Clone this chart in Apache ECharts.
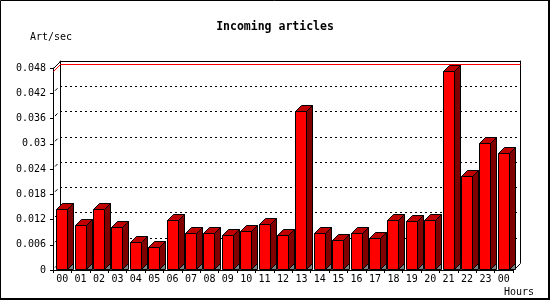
<!DOCTYPE html>
<html>
<head>
<meta charset="utf-8">
<script src="https://cdn.jsdelivr.net/npm/echarts@6/dist/echarts.min.js"></script>
<style>
html,body{margin:0;padding:0;background:#fff;}
#c{width:550px;height:300px;}
</style>
</head>
<body>
<div id="c"></div>
<script>
const hours = ['00','01','02','03','04','05','06','07','08','09','10','11','12','13','14','15','16','17','18','19','20','21','22','23','00'];
const articlesPerSec = [0.0143,0.0106,0.0143,0.0101,0.0066,0.0054,0.0117,0.0087,0.0087,0.0083,0.0092,0.0109,0.0083,0.0376,0.0087,0.0071,0.0087,0.0075,0.0118,0.0116,0.0118,0.0471,0.0223,0.0301,0.0277];
const yTicks = [0,0.006,0.012,0.018,0.024,0.03,0.036,0.042,0.048];
const titleText = 'Incoming articles';
const yUnit = 'Art/sec';
const xUnit = 'Hours';

const DEPTH = 7;      // wall depth in px
const BAR_D = 6;      // bar depth in px
const BAR_W = 11;
const FONT = 'DejaVu Sans Mono';
const maxVal = Math.max(...articlesPerSec);

const chart = echarts.init(document.getElementById('c'), null, {renderer:'canvas'});

function px(v){ return Math.floor(v) + 0.5; }

function renderBar(params, api){
  const i = api.value(0), v = api.value(1);
  const top = api.coord([i, v]);
  const base = api.coord([i, 0]);
  const x0 = px(top[0] - BAR_W/2);
  const x1 = x0 + BAR_W;
  const yt = px(top[1]);
  const yb = px(base[1]) - 1;
  const d = BAR_D;
  const stroke = {stroke:'#000', lineWidth:1};
  return {type:'group', children:[
    {type:'polygon', shape:{points:[[x1,yb],[x1+d,yb-d],[x1+d,yb]]}, style:{fill:'#808080', stroke:'#000', lineWidth:1}},
    {type:'polygon', shape:{points:[[x1,yb],[x1,yt],[x1+d,yt-d],[x1+d,yb-d]]}, style:Object.assign({fill:'#800000'}, stroke)},
    {type:'polygon', shape:{points:[[x0,yt],[x0+d,yt-d],[x1+d,yt-d],[x1,yt]]}, style:Object.assign({fill:'#c00000'}, stroke)},
    {type:'rect', shape:{x:x0, y:yt, width:BAR_W, height:yb-yt}, style:Object.assign({fill:'#ff0000'}, stroke)}
  ]};
}

function renderFrame(params, api){
  const cs = params.coordSys;
  const l = px(cs.x), t = px(cs.y), r = px(cs.x + cs.width), b = px(cs.y + cs.height);
  const st = {stroke:'#000', lineWidth:1, fill:null};
  return {type:'group', children:[
    {type:'polyline', shape:{points:[[l,t],[l+DEPTH,t-DEPTH]]}, style:st},
    {type:'polyline', shape:{points:[[r,b],[r+DEPTH,b-DEPTH]]}, style:st}
  ]};
}

function renderStub(params, api){
  const cs = params.coordSys;
  const p = api.coord([0, api.value(0)]);
  const l = cs.x;
  const y = p[1];
  return {type:'line', shape:{x1:l+2, y1:y-2.5, x2:l+4.5, y2:y-5}, style:{stroke:'#000', lineWidth:1}};
}

function renderMax(params, api){
  const cs = params.coordSys;
  const p = api.coord([0, api.value(0)]);
  const l = px(cs.x), r = px(cs.x + cs.width);
  const y = px(p[1]);
  return {type:'polyline', shape:{points:[[l,y],[l+DEPTH,y-DEPTH],[r+DEPTH,y-DEPTH]]}, style:{stroke:'#ff0000', lineWidth:1, fill:null}};
}

const option = {
  animation:false,
  backgroundColor:'#fff',
  graphic:[
    {type:'polyline', silent:true, shape:{points:[[0.5,299],[0.5,0.5],[549,0.5]]}, style:{stroke:'#000', lineWidth:1, fill:null}},
    {type:'polyline', silent:true, shape:{points:[[549,0],[549,299],[0,299]]}, style:{stroke:'#000', lineWidth:2, fill:null}}
  ],
  title:[
    {text:titleText, left:'center', top:21, padding:0, textStyle:{fontFamily:FONT, fontWeight:'bold', fontSize:11.5, color:'#000'}},
    {text:yUnit, left:30, top:32, padding:0, textStyle:{fontFamily:FONT, fontWeight:'normal', fontSize:10, color:'#000'}},
    {text:xUnit, left:504, top:287, padding:0, textStyle:{fontFamily:FONT, fontWeight:'normal', fontSize:10, color:'#000'}}
  ],
  grid:[
    {left:53, top:68, right:37, bottom:30},
    {left:60, top:61, right:30, bottom:37}
  ],
  xAxis:[
    {type:'category', gridIndex:0, data:hours, boundaryGap:true,
      axisLine:{show:true, lineStyle:{color:'#000', width:1}},
      axisTick:{show:true, length:3, alignWithLabel:false, lineStyle:{color:'#000'}},
      axisLabel:{color:'#000', fontFamily:FONT, fontSize:10, margin:4, interval:0},
      splitLine:{show:false}},
    {type:'value', gridIndex:1, min:0, max:1, position:'top',
      axisLine:{show:true, onZero:false, lineStyle:{color:'#000', width:1}},
      axisTick:{show:false}, axisLabel:{show:false}, splitLine:{show:false}}
  ],
  yAxis:[
    {type:'value', gridIndex:0, min:yTicks[0], max:yTicks[yTicks.length-1], interval:yTicks[1]-yTicks[0],
      axisLine:{show:true, lineStyle:{color:'#000', width:1}},
      axisTick:{show:true, length:3, lineStyle:{color:'#000'}},
      axisLabel:{color:'#000', fontFamily:FONT, fontSize:10, margin:7,
        formatter:(v)=>String(+v.toFixed(3))},
      splitLine:{show:false}},
    {type:'value', gridIndex:1, min:yTicks[0], max:yTicks[yTicks.length-1], interval:yTicks[1]-yTicks[0],
      axisLine:{show:true, onZero:false, lineStyle:{color:'#000', width:1}},
      axisTick:{show:false}, axisLabel:{show:false},
      splitLine:{show:true, showMinLine:false, showMaxLine:false, lineStyle:{color:'#000', type:[2,3], width:1}}},
    {type:'value', gridIndex:1, position:'right', min:yTicks[0], max:yTicks[yTicks.length-1],
      axisLine:{show:true, onZero:false, lineStyle:{color:'#000', width:1}},
      axisTick:{show:false}, axisLabel:{show:false}, splitLine:{show:false}}
  ],
  series:[
    {type:'custom', name:'max', xAxisIndex:0, yAxisIndex:0, renderItem:renderMax, data:[[maxVal]], z:3, silent:true,
      encode:{y:0}},
    {type:'custom', name:'stubs', xAxisIndex:0, yAxisIndex:0, renderItem:renderStub, data:yTicks.slice(0,-1).map(v=>[v]), z:3, silent:true,
      encode:{y:0}},
    {type:'custom', name:'frame', xAxisIndex:0, yAxisIndex:0, renderItem:renderFrame, data:[[0]], z:3, silent:true,
      encode:{y:0}},
    {type:'custom', name:'articles', xAxisIndex:0, yAxisIndex:0, renderItem:renderBar, z:5,
      data:articlesPerSec.map((v,i)=>[i,v]), encode:{x:0, y:1}}
  ]
};
chart.setOption(option);
</script>
</body>
</html>
